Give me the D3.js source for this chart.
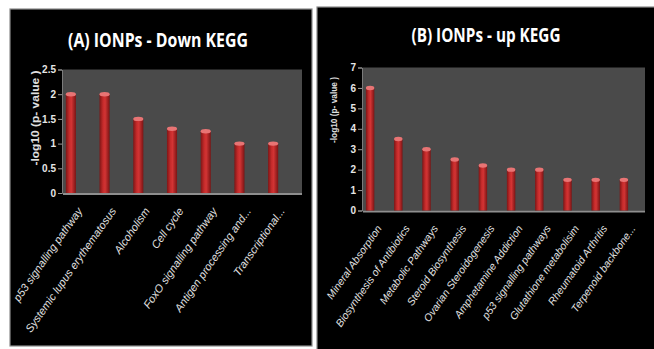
<!DOCTYPE html>
<html>
<head>
<meta charset="utf-8">
<script src="https://cdn.jsdelivr.net/npm/d3@7"></script>
<style>
  body { margin: 0; background: #ffffff; }
  svg { display: block; }
</style>
</head>
<body>
<svg id="chart" width="654" height="349"></svg>
<script>
// KEGG pathways enriched among down-regulated genes
const downPathways = [
  "p53 signalling pathway",
  "Systemic lupus erythematosus",
  "Alcoholism",
  "Cell cycle",
  "FoxO signalling pathway",
  "Antigen processing and...",
  "Transcriptional..."
];
const downValues = [2, 2, 1.5, 1.3, 1.25, 1, 1];
const downTicks = [0, 0.5, 1, 1.5, 2, 2.5];

// KEGG pathways enriched among up-regulated genes
const upPathways = [
  "Mineral Absorption",
  "Biosynthesis of Antibiotics",
  "Metabolic Pathways",
  "Steroid Biosynthesis",
  "Ovarian Steroidogenesis",
  "Amphetamine Addiction",
  "p53 signalling pathways",
  "Glutathione  metabolisim",
  "Rheumatoid Arthritis",
  "Terpenoid backbone..."
];
const upValues = [6, 3.5, 3, 2.5, 2.2, 2, 2, 1.5, 1.5, 1.5];
const upTicks = [0, 1, 2, 3, 4, 5, 6, 7];

const svg = d3.select("#chart");
const defs = svg.append("defs");

// cylinder shading for the columns
const grad = defs.append("linearGradient").attr("id", "cyl")
  .attr("x1", "0%").attr("x2", "100%").attr("y1", "0%").attr("y2", "0%");
[["0%", "#7e1616"], ["35%", "#c62b2b"], ["55%", "#d23434"], ["100%", "#7a1414"]]
  .forEach(([o, c]) => grad.append("stop").attr("offset", o).attr("stop-color", c));

function drawPanel(cfg) {
  const g = svg.append("g");

  // black card with a thin grey border
  g.append("rect")
    .attr("x", cfg.panel[0]).attr("y", cfg.panel[1])
    .attr("width", cfg.panel[2]).attr("height", cfg.panel[3])
    .attr("fill", "#000").attr("stroke", "#8c8c8c").attr("stroke-width", 1.2);

  const y = d3.scaleLinear().domain([0, cfg.max]).range(cfg.yRange);
  const x = d3.scaleBand().domain(cfg.cats).range(cfg.xRange)
    .paddingInner(0.7).paddingOuter(0.35);

  // back wall
  g.append("rect")
    .attr("x", cfg.wall[0]).attr("y", y(cfg.max))
    .attr("width", cfg.wall[1] - cfg.wall[0]).attr("height", y(0) - y(cfg.max))
    .attr("fill", "#4a4a4a");

  // y axis
  const yAxis = d3.axisLeft(y).tickValues(cfg.ticks).tickSize(4).tickPadding(2)
    .tickFormat(d3.format("~g"));
  const ax = g.append("g").attr("transform", `translate(${cfg.wall[0] - 1},0)`).call(yAxis);
  ax.select(".domain").attr("stroke", "#9a9a9a").attr("stroke-width", 0.8);
  ax.selectAll(".tick line").attr("stroke", "#9a9a9a");
  ax.selectAll(".tick text")
    .attr("fill", "#e6e6e6")
    .style("font", "bold 10px 'Liberation Sans', sans-serif");

  // floor edge
  g.append("line")
    .attr("x1", cfg.wall[0]).attr("x2", cfg.wall[1])
    .attr("y1", y(0) + 1).attr("y2", y(0) + 1)
    .attr("stroke", "#8e8e8e").attr("stroke-width", 2);

  // columns
  const bars = g.selectAll(".bar").data(cfg.vals).join("g").attr("class", "bar");
  bars.append("rect")
    .attr("x", (d, i) => x(cfg.cats[i]))
    .attr("y", d => y(d))
    .attr("width", x.bandwidth())
    .attr("height", d => y(0) - y(d))
    .attr("fill", "url(#cyl)");
  bars.append("ellipse")
    .attr("cx", (d, i) => x(cfg.cats[i]) + x.bandwidth() / 2)
    .attr("cy", d => y(d))
    .attr("rx", x.bandwidth() / 2)
    .attr("ry", 2.2)
    .attr("fill", "#e87474");

  // category labels
  g.selectAll(".cat").data(cfg.cats).join("text").attr("class", "cat")
    .attr("transform", d => `translate(${x(d) + x.bandwidth() / 2 + 12},${y(0) + 18}) rotate(-55)`)
    .attr("text-anchor", "end")
    .attr("fill", "#e2e2e2")
    .style("font", `italic ${cfg.catSize}px 'Liberation Sans', sans-serif`)
    .text(d => d);

  // title
  g.append("text")
    .attr("x", cfg.title[1]).attr("y", cfg.title[2])
    .attr("text-anchor", "middle")
    .attr("textLength", cfg.title[3]).attr("lengthAdjust", "spacingAndGlyphs")
    .attr("fill", "#ffffff")
    .style("font", "bold 20px 'Open Sans', sans-serif")
    .text(cfg.title[0]);

  // y axis title
  g.append("text")
    .attr("transform", `translate(${cfg.yLabel[0]},${cfg.yLabel[1]}) rotate(-90)`)
    .attr("text-anchor", "middle")
    .attr("textLength", cfg.yLabel[2]).attr("lengthAdjust", "spacingAndGlyphs")
    .attr("fill", "#e0e0e0")
    .style("font", `bold ${cfg.yLabel[3]}px 'Liberation Sans', sans-serif`)
    .text("-log10 (p- value )");
}

drawPanel({
  cats: downPathways, vals: downValues, ticks: downTicks, max: 2.5,
  panel: [10, 9, 302, 337],
  wall: [63, 302],
  yRange: [193, 69.5],
  xRange: [54, 290],
  catSize: 11,
  title: ["(A) IONPs - Down KEGG", 158, 47, 180],
  yLabel: [39, 118, 95, 10]
});

drawPanel({
  cats: upPathways, vals: upValues, ticks: upTicks, max: 7,
  panel: [317, 7, 340, 345],
  wall: [363, 645],
  yRange: [210.5, 67.5],
  xRange: [356, 638],
  catSize: 10.5,
  title: ["(B) IONPs - up KEGG", 486, 42, 149],
  yLabel: [337, 110, 66, 9]
});
</script>
</body>
</html>
